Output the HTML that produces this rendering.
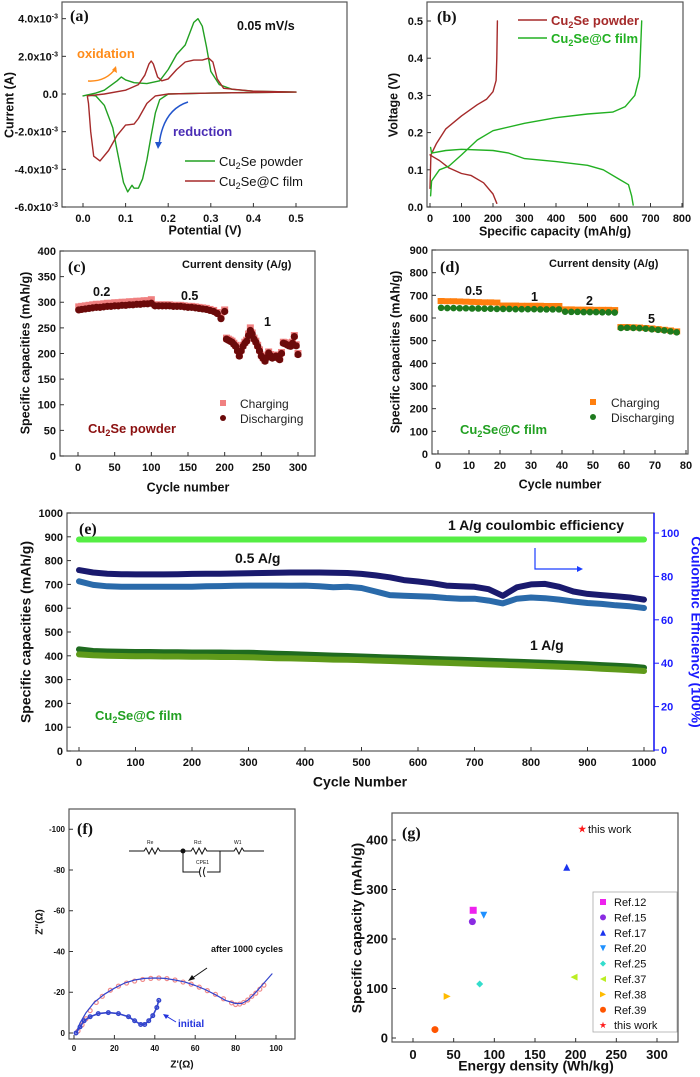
<!DOCTYPE html>
<html><head><meta charset="utf-8"><style>
html,body{margin:0;padding:0;background:#fff;}
svg{display:block;font-family:"Liberation Sans",Arial,sans-serif;}
.t{font-weight:bold;font-size:11px;fill:#111;}
.ti{font-weight:bold;font-size:12.5px;fill:#111;}
.pl{font-family:"Liberation Serif",serif;font-weight:bold;font-size:16px;fill:#111;}
</style></head><body>
<svg id="fig" width="700" height="1077" viewBox="0 0 700 1077" xmlns="http://www.w3.org/2000/svg">
<g>
<text class="pl" x="70" y="21">(a)</text>
<text class="ti" x="237" y="30">0.05 mV/s</text>
<text x="77" y="58" font-size="13" font-weight="bold" fill="#ff8c1a">oxidation</text>
<path d="M88 81 Q106 82 116 68" fill="none" stroke="#ff8c1a" stroke-width="1.5"/>
<polygon points="116,66 117,73 112,70" fill="#ff8c1a"/>
<text x="173" y="136" font-size="13" font-weight="bold" fill="#4a2db5">reduction</text>
<path d="M188 102 Q163 110 159 145" fill="none" stroke="#2255cc" stroke-width="1.5"/>
<polygon points="158,149 155,142 162,142" fill="#2255cc"/>
<line x1="185" y1="161" x2="215" y2="161" stroke="#22a022" stroke-width="1.5"/>
<text x="219" y="166" font-size="13" fill="#111">Cu<tspan dy="3" font-size="9">2</tspan><tspan dy="-3">Se powder</tspan></text>
<line x1="185" y1="181" x2="215" y2="181" stroke="#a52a2a" stroke-width="1.5"/>
<text x="219" y="186" font-size="13" fill="#111">Cu<tspan dy="3" font-size="9">2</tspan><tspan dy="-3">Se@C film</tspan></text>
</g>
<g>
<text class="pl" x="437" y="22">(b)</text>
<line x1="518" y1="20" x2="547" y2="20" stroke="#a52a2a" stroke-width="1.5"/>
<text x="551" y="25" font-size="13" font-weight="bold" fill="#a52a2a">Cu<tspan dy="3" font-size="9">2</tspan><tspan dy="-3">Se powder</tspan></text>
<line x1="518" y1="38" x2="547" y2="38" stroke="#22b022" stroke-width="1.5"/>
<text x="551" y="43" font-size="13" font-weight="bold" fill="#22b022">Cu<tspan dy="3" font-size="9">2</tspan><tspan dy="-3">Se@C film</tspan></text>
</g>
<g>
<text class="pl" x="68" y="272">(c)</text>
<text class="t" x="182" y="268">Current density (A/g)</text>
<text class="ti" x="93" y="296">0.2</text>
<text class="ti" x="181" y="300">0.5</text>
<text class="ti" x="264" y="326">1</text>
<rect x="220" y="400" width="6" height="6" fill="#f08080"/>
<text x="240" y="408" font-size="12" fill="#222">Charging</text>
<circle cx="223" cy="418" r="3" fill="#6b0a0a"/>
<text x="240" y="423" font-size="12" fill="#222">Discharging</text>
<text x="88" y="433" font-size="13" font-weight="bold" fill="#8b1010">Cu<tspan dy="3" font-size="9">2</tspan><tspan dy="-3">Se powder</tspan></text>
</g>
<g>
<text class="pl" x="440" y="272">(d)</text>
<text class="t" x="549" y="267">Current density (A/g)</text>
<text class="ti" x="465" y="295">0.5</text>
<text class="ti" x="531" y="301">1</text>
<text class="ti" x="586" y="305">2</text>
<text class="ti" x="648" y="323">5</text>
<rect x="590" y="399" width="6" height="6" fill="#ff7f0e"/>
<text x="611" y="407" font-size="12" fill="#222">Charging</text>
<circle cx="593" cy="417" r="3" fill="#1e7a1e"/>
<text x="611" y="422" font-size="12" fill="#222">Discharging</text>
<text x="460" y="434" font-size="13" font-weight="bold" fill="#22a022">Cu<tspan dy="3" font-size="9">2</tspan><tspan dy="-3">Se@C film</tspan></text>
</g>
<g>
<text class="pl" x="79" y="534">(e)</text>
<text x="448" y="530" font-size="14" font-weight="bold" fill="#111">1 A/g coulombic efficiency</text>
<text x="235" y="563" font-size="14" font-weight="bold" fill="#111">0.5 A/g</text>
<text x="530" y="650" font-size="14" font-weight="bold" fill="#111">1 A/g</text>
<text x="95" y="720" font-size="13" font-weight="bold" fill="#22a022">Cu<tspan dy="3" font-size="9">2</tspan><tspan dy="-3">Se@C film</tspan></text>
<polyline points="535,548 535,569 580,569" fill="none" stroke="#1a3dff" stroke-width="1.2"/>
<polygon points="583,569 577,566 577,572" fill="#1a3dff"/>
</g>
<g>
<text class="pl" x="77" y="834">(f)</text>
<g stroke="#111" fill="none" stroke-width="1">
<path d="M129 851 H144 l2 -3 l3 6 l3 -6 l3 6 l3 -6 l2 3 H183 H191 l2 -3 l3 6 l3 -6 l3 6 l3 -6 l2 3 H220 H234 l2 -3 l3 6 l3 -6 l2 3 H264"/>
<path d="M183 851 V872 H199 M207 872 H220 V851"/>
<path d="M201 867 q-3 5 0 10 M205 867 q-3 5 0 10"/>
</g>
<circle cx="183" cy="851" r="2.5" fill="#111"/>
<text x="147" y="844" font-size="5" fill="#111">Re</text>
<text x="194" y="844" font-size="5" fill="#111">Rct</text>
<text x="234" y="844" font-size="5" fill="#111">W1</text>
<text x="196" y="864" font-size="5" fill="#111">CPE1</text>
<text x="211" y="952" font-size="9" font-weight="bold" fill="#111">after 1000 cycles</text>
<line x1="207" y1="968" x2="191" y2="979" stroke="#111" stroke-width="1"/>
<polygon points="188,981 192,975 195,979" fill="#111"/>
<text x="178" y="1027" font-size="10" font-weight="bold" fill="#2233dd">initial</text>
<line x1="176" y1="1022" x2="166" y2="1016" stroke="#2233dd" stroke-width="1"/>
<polygon points="163,1014 169,1015 166,1019" fill="#2233dd"/>
</g>
<g>
<text class="pl" x="402" y="838">(g)</text>
<text x="588" y="833" font-size="11" fill="#111">this work</text>
<rect x="593" y="892" width="84" height="140" fill="#fff" stroke="#aaa" stroke-width="0.8"/>
</g>
</svg>
<script>
// ---------- data ----------
const cvPowderV=[0,0.03,0.05,0.08,0.09,0.1,0.12,0.15,0.18,0.2,0.22,0.24,0.26,0.27,0.28,0.29,0.3,0.32,0.35,0.4,0.5,0.4,0.3,0.2,0.18,0.17,0.16,0.15,0.14,0.13,0.12,0.115,0.105,0.095,0.08,0.07,0.06,0.05,0.03,0.01,0];
const cvPowderI=[-0.1,0.05,0.2,0.7,0.9,0.75,0.6,0.55,0.7,1.3,2.1,2.6,3.8,4.0,3.6,2.5,1.2,0.5,0.25,0.15,0.1,0.08,0.05,0,-0.3,-1.0,-2.2,-3.5,-4.5,-5.0,-5.0,-4.85,-5.2,-4.7,-3.0,-1.8,-1.2,-0.6,-0.1,-0.05,-0.1];
const cvFilmV=[0.01,0.05,0.1,0.13,0.145,0.155,0.16,0.165,0.175,0.185,0.2,0.22,0.24,0.26,0.28,0.295,0.305,0.315,0.33,0.4,0.5,0.4,0.3,0.2,0.17,0.15,0.13,0.12,0.1,0.08,0.06,0.04,0.025,0.018,0.013,0.01];
const cvFilmI=[-0.1,0,0.2,0.5,1.0,1.6,1.75,1.6,0.9,0.7,0.8,1.3,1.7,1.8,1.8,1.9,1.7,0.8,0.3,0.15,0.1,0.08,0.05,0,-0.1,-0.5,-1.3,-1.6,-1.65,-2.2,-3.0,-3.55,-3.3,-2.0,-0.5,-0.1];
const bPowChgC=[0,3,20,50,100,150,180,200,210,212,214];
const bPowChgV=[0.05,0.14,0.17,0.21,0.245,0.275,0.29,0.31,0.34,0.4,0.5];
const bPowDisC=[0,10,30,60,100,130,170,200,212];
const bPowDisV=[0.14,0.135,0.125,0.105,0.09,0.085,0.065,0.035,0.01];
const bFilmChgC=[2,5,30,60,100,150,200,300,400,500,580,620,650,665,672];
const bFilmChgV=[0.03,0.07,0.1,0.11,0.14,0.18,0.205,0.225,0.24,0.25,0.255,0.27,0.3,0.35,0.5];
const bFilmDisC=[2,5,50,100,200,250,300,400,500,550,600,630,640,645];
const bFilmDisV=[0.16,0.145,0.152,0.155,0.152,0.145,0.13,0.122,0.112,0.1,0.075,0.06,0.03,0.005];
const cCycles=[1,5,10,15,20,25,30,35,40,45,50,55,60,65,70,75,80,85,90,95,100,105,110,115,120,125,130,135,140,145,150,155,160,165,170,175,180,185,190,195,
 200,202.5,205,207.5,210,212.5,215,217.5,220,222.5,225,227.5,230,232.5,235,237.5,240,242.5,245,247.5,250,252.5,255,257.5,260,262.5,265,267.5,270,272.5,275,277.5,280,282.5,285,287.5,290,292.5,295,297.5,300];
const cDis=[285,286,287,288,289,290,290,291,292,292,293,293,294,294,295,295,296,296,297,297,298,293,293,293,293,293,292,292,292,291,290,290,289,288,287,286,284,282,278,268,
 282,228,226,224,222,218,214,205,195,205,214,220,224,235,245,238,228,222,214,205,195,190,185,192,201,196,191,193,195,191,188,200,220,219,217,215,214,220,233,215,198];
const cChg=[291,292,293,294,295,296,296,297,298,298,299,299,300,300,301,301,302,302,303,303,305,295,295,295,295,295,294,294,294,293,292,292,291,290,289,288,286,284,280,272,
 285,230,228,226,224,220,216,207,197,207,216,222,226,238,250,240,230,224,216,207,197,192,187,194,203,198,193,195,197,193,190,202,222,221,219,217,216,222,235,217,200];
const dCycles=[1,3,5,7,9,11,13,15,17,19,21,23,25,27,29,31,33,35,37,39,41,43,45,47,49,51,53,55,57,59,61,63,65,67,69,71,73,75,77];
const dChg=[675,674,674,673,672,671,670,669,669,668,655,655,655,654,654,654,654,653,653,653,638,638,637,637,637,636,636,636,635,560,560,559,558,556,554,551,548,545,541];
const dDis=[645,644,644,643,643,642,642,641,641,640,640,640,639,639,639,639,638,638,638,638,628,627,627,626,626,626,625,625,624,556,557,556,555,553,550,548,545,541,537];
const eCycles=[0,25,50,75,100,125,150,175,200,225,250,275,300,325,350,375,400,425,450,475,500,525,550,575,600,625,650,675,700,725,750,775,800,825,850,875,900,925,950,975,1000];
const eHalfChg=[760,750,745,743,742,742,742,743,744,745,745,746,747,748,749,750,750,750,749,748,744,738,730,718,712,705,695,692,690,680,652,688,700,702,690,670,660,655,650,645,636];
const eHalfDis=[713,698,692,690,690,690,690,690,690,692,693,694,695,695,695,694,695,692,688,690,685,670,655,652,650,648,643,640,640,632,620,640,645,642,636,628,622,618,612,608,601];
const eOneChg=[427,420,418,417,416,416,415,415,414,414,414,413,413,411,409,407,405,403,401,399,397,395,393,391,389,387,385,383,381,379,377,375,373,371,369,367,364,361,358,355,350];
const eOneDis=[406,402,400,399,398,398,397,397,396,396,395,395,394,392,390,389,388,386,384,383,382,380,378,376,374,372,370,368,366,364,362,360,358,356,354,352,349,346,343,340,336];
const eCE=[97,97,97,97,97,97,97,97,97,97,97,97,97,97,97,97,97,97,97,97,97,97,97,97,97,97,97,97,97,97,97,97,97,97,97,97,97,97,97,97,97];
const fAfterRe=[1,3,6,10,15,20,25,30,35,40,45,50,55,60,65,70,75,80,83,86,90,94,98];
const fAfterIm=[0,5,10,15,19,22,24.5,26,26.8,27,26.8,26,25,23.3,21.3,18.8,16,14.5,14.5,16,20,24.5,29];
const fDotRe=[2,4,6,8,11,14,18,22,26,30,34,38,42,46,50,54,58,62,66,70,74,78,80,82,84,86,88,90,92,94];
const fDotIm=[1,4,7,11,15,18,21,23,24.5,25.5,26.3,26.8,27,26.7,26,25,24,22.5,20.8,19,16.8,14.8,14,14.2,15,16.2,18,19.5,21.5,23.5];
const fInitRe=[1,3,5,8,12,17,22,27,30,33,35,37,39,41,42];
const fInitIm=[0,3,6,8,9.5,10,9.5,8,6,4.2,4.2,6,8.5,12.5,16];
const gRefs=["Ref.12","Ref.15","Ref.17","Ref.20","Ref.25","Ref.37","Ref.38","Ref.39","this work"];
const gEnergy=[74,73,189,87,82,198,42,27,208];
const gCapacity=[258,235,345,248,109,123,84,17,422];

// ---------- helpers ----------
const NS="http://www.w3.org/2000/svg";
const svg=document.getElementById('fig');
function add(tag,attrs,parent){const e=document.createElementNS(NS,tag);for(const k in attrs)e.setAttribute(k,attrs[k]);(parent||svg).appendChild(e);return e;}
function lin(d0,d1,r0,r1){return v=>r0+(v-d0)*(r1-r0)/(d1-d0);}

const P={
 a:{f:[62,2,347,207],x:lin(0,0.5,83,296),y:lin(0,-6,94,207),xt:[0,0.1,0.2,0.3,0.4,0.5],yt:[4,2,0,-2,-4,-6],fs:11},
 b:{f:[427,2,683,207],x:lin(0,800,430,682),y:lin(0,0.5,207,21),xt:[0,100,200,300,400,500,600,700,800],yt:[0,0.1,0.2,0.3,0.4,0.5],fs:11},
 c:{f:[60,251,315,456],x:lin(0,300,78,298),y:lin(0,400,456,251),xt:[0,50,100,150,200,250,300],yt:[0,50,100,150,200,250,300,350,400],fs:11},
 d:{f:[432,250,688,454],x:lin(0,80,438,686),y:lin(0,900,454,250),xt:[0,10,20,30,40,50,60,70,80],yt:[0,100,200,300,400,500,600,700,800,900],fs:11},
 e:{f:[67,513,654,751],x:lin(0,1000,79,644),y:lin(0,1000,751,513),xt:[0,100,200,300,400,500,600,700,800,900,1000],yt:[0,100,200,300,400,500,600,700,800,900,1000],fs:11},
 f:{f:[69,809,295,1039],x:lin(0,100,74,276),y:lin(0,80,1033,870),xt:[0,20,40,60,80,100],yt:[0,20,40,60,80,100],fs:8},
 g:{f:[392,813,678,1042],x:lin(0,300,413,657),y:lin(0,400,1038,840),xt:[0,50,100,150,200,250,300],yt:[0,100,200,300,400],fs:13}
};
const ceY=lin(0,100,750,533);

function fmtX(k,v){if(k==='a')return v.toFixed(1);return String(v);}
function fmtY(k,v){if(k==='b')return v.toFixed(1);if(k==='f')return v===0?'0':'-'+v;return String(v);}

for(const k in P){
 const p=P[k],[x0,y0,x1,y1]=p.f;
 const fr=add('rect',{x:x0,y:y0,width:x1-x0,height:y1-y0,fill:'none',stroke:'#555',"stroke-width":1.2});
 
 
 p.xt.forEach(v=>{
  const X=p.x(v);
  const tl=add('line',{x1:X,x2:X,y1:y1,y2:y1-4,stroke:'#333'});
  
  
  const tx=add('text',{x:X,y:y1+p.fs+4,"text-anchor":"middle","font-size":p.fs,"font-weight":"bold",fill:'#111'});
  tx.textContent=fmtX(k,v);
  
  
 });
 p.yt.forEach(v=>{
  const Y=p.y(v);
  const tl=add('line',{x1:x0,x2:x0+4,y1:Y,y2:Y,stroke:'#333'});
  
  
  const tx=add('text',{x:x0-4,y:Y+p.fs*0.36,"text-anchor":"end","font-size":p.fs,"font-weight":"bold",fill:'#111'});
  if(k==='a'){ if(v===0){tx.textContent='0.0';} else {tx.textContent=v.toFixed(1)+'x10';const s=add('tspan',{dy:-4,"font-size":7},tx);s.textContent='-3';} }
  else tx.textContent=fmtY(k,v);
  
  
 });
}
const rax=add('line',{x1:654,x2:654,y1:513,y2:751,stroke:'#1a1aff',"stroke-width":1.5});


[0,20,40,60,80,100].forEach(v=>{
 const Y=ceY(v);
 const tl=add('line',{x1:654,x2:659,y1:Y,y2:Y,stroke:'#1a1aff'});
 
 
 const tx=add('text',{x:661,y:Y+4,"font-size":11,"font-weight":"bold",fill:'#1a1aff'});
 tx.textContent=String(v);
 
 
});

const titles=[
 ['a-x-title',205,231,0,'Potential (V)','#111',12.5],
 ['a-y-title',10,105,-90,'Current (A)','#111',12.5],
 ['b-x-title',555,232,0,'Specific capacity (mAh/g)','#111',12.5],
 ['b-y-title',394,105,-90,'Voltage (V)','#111',12.5],
 ['c-x-title',188,488,0,'Cycle number','#111',12.5],
 ['c-y-title',26,353,-90,'Specific capacities (mAh/g)','#111',12.5],
 ['d-x-title',560,485,0,'Cycle number','#111',12.5],
 ['d-y-title',396,352,-90,'Specific capacities (mAh/g)','#111',12.5],
 ['e-x-title',360,783,0,'Cycle Number','#111',14],
 ['e-y-title',27,632,-90,'Specific capacities (mAh/g)','#111',14],
 ['e-y2-title',695,632,90,'Coulombic Efficiency (100%)','#1a1aff',14],
 ['f-x-title',182,1065,0,"Z'(\u03a9)",'#111',10],
 ['f-y-title',40,922,-90,"Z''(\u03a9)",'#111',10],
 ['g-x-title',536,1067,0,'Energy density (Wh/kg)','#111',14],
 ['g-y-title',358,928,-90,'Specific capacity (mAh/g)','#111',14]
];
titles.forEach(t=>{
 const tx=add('text',{x:t[1],y:t[2],"text-anchor":"middle","font-size":t[6],"font-weight":"bold",fill:t[5],transform:'rotate('+t[3]+' '+t[1]+' '+t[2]+')',"dominant-baseline":"middle"});
 tx.textContent=t[4];
 
 
});

function line(k,xs,ys,color,w,name,yfn){
 const p=P[k];const fy=yfn||p.y;
 const pts=xs.map((v,i)=>p.x(v).toFixed(1)+','+fy(ys[i]).toFixed(1)).join(' ');
 const el=add('polyline',{points:pts,fill:'none',stroke:color,"stroke-width":w,"stroke-linejoin":"round","stroke-linecap":"round"});
 
 
}
line('a',cvPowderV,cvPowderI,'#22a022',1.4,'cv-powder-curve');
line('a',cvFilmV,cvFilmI,'#a52a2a',1.4,'cv-film-curve');
line('b',bPowChgC,bPowChgV,'#a52a2a',1.4,'powder-charge-curve');
line('b',bPowDisC,bPowDisV,'#a52a2a',1.4,'powder-discharge-curve');
line('b',bFilmChgC,bFilmChgV,'#22b022',1.4,'film-charge-curve');
line('b',bFilmDisC,bFilmDisV,'#22b022',1.4,'film-discharge-curve');
cCycles.forEach((n,i)=>{
 const r=add('rect',{x:P.c.x(n)-3.5,y:P.c.y(cChg[i])-3.5,width:7,height:7,fill:'#f08080'});
 
 
});
cCycles.forEach((n,i)=>{
 const c=add('circle',{cx:P.c.x(n),cy:P.c.y(cDis[i]),r:3.6,fill:'#6b0a0a'});
 
 
});
dCycles.forEach((n,i)=>{
 const r=add('rect',{x:P.d.x(n)-3.5,y:P.d.y(dChg[i])-3,width:7,height:6,fill:'#ff7f0e'});
 
 
});
dCycles.forEach((n,i)=>{
 const c=add('circle',{cx:P.d.x(n),cy:P.d.y(dDis[i]),r:3.3,fill:'#1e7a1e'});
 
 
});
line('e',eCycles,eCE,'#55ee44',6,'coulombic-efficiency-line',ceY);
line('e',eCycles,eHalfChg,'#1a1a6e',6,'half-ag-charge-line');
line('e',eCycles,eHalfDis,'#2a6aaa',6,'half-ag-discharge-line');
line('e',eCycles,eOneChg,'#1f6b1f',6,'one-ag-charge-line');
line('e',eCycles,eOneDis,'#5f9a1a',6,'one-ag-discharge-line');
fDotRe.forEach((v,i)=>{
 const c=add('circle',{cx:P.f.x(v),cy:P.f.y(fDotIm[i]),r:2,fill:'none',stroke:'#f08a8a',"stroke-width":1.2});
 
 
});
line('f',fAfterRe,fAfterIm,'#3344cc',1.2,'eis-after-fit');
fInitRe.forEach((v,i)=>{
 const c=add('circle',{cx:P.f.x(v),cy:P.f.y(fInitIm[i]),r:1.8,fill:'none',stroke:'#3344cc',"stroke-width":1.4});
 
 
});
line('f',fInitRe,fInitIm,'#3344cc',1.6,'eis-initial-fit');
const gColors=['#ee22ee','#8a2be2','#1a33ee','#1e90ff','#33ddcc','#bbee22','#ffbb00','#ff5500','#ff1a1a'];
function marker(i,x,y,s){
 let el;const c=gColors[i];
 if(i===0) el=add('rect',{x:x-s,y:y-s,width:2*s,height:2*s,fill:c});
 else if(i===1) el=add('circle',{cx:x,cy:y,r:s,fill:c});
 else if(i===2) el=add('polygon',{points:`${x},${y-s} ${x+s},${y+s} ${x-s},${y+s}`,fill:c});
 else if(i===3) el=add('polygon',{points:`${x-s},${y-s} ${x+s},${y-s} ${x},${y+s}`,fill:c});
 else if(i===4) el=add('polygon',{points:`${x},${y-s} ${x+s},${y} ${x},${y+s} ${x-s},${y}`,fill:c});
 else if(i===5) el=add('polygon',{points:`${x-s},${y} ${x+s},${y-s} ${x+s},${y+s}`,fill:c});
 else if(i===6) el=add('polygon',{points:`${x+s},${y} ${x-s},${y-s} ${x-s},${y+s}`,fill:c});
 else if(i===7) el=add('circle',{cx:x,cy:y,r:s,fill:c});
 else {const pts=[];for(let j=0;j<10;j++){const r=j%2?s*0.45:s*1.2;const a=-Math.PI/2+j*Math.PI/5;pts.push((x+r*Math.cos(a)).toFixed(1)+','+(y+r*Math.sin(a)).toFixed(1));}el=add('polygon',{points:pts.join(' '),fill:c});}
 return el;
}
gRefs.forEach((n,i)=>{
 const m=marker(i,P.g.x(gEnergy[i]),P.g.y(gCapacity[i]),3.5);
 
 
 const lm=marker(i,603,902+i*15.4,3);
 
 
 const lt=add('text',{x:614,y:906+i*15.4,"font-size":11,fill:'#111'});
 lt.textContent=n;
 
 
});
</script>
</body></html>
